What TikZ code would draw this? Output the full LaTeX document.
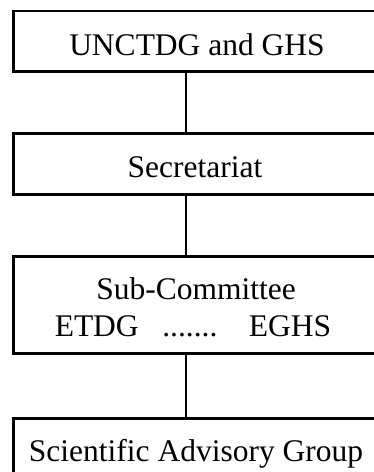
\documentclass[tikz,border=0pt]{standalone}
\usepackage{fontspec}
\setmainfont{Liberation Serif}
\begin{document}
\begin{tikzpicture}[x=1pt,y=-1pt,
  unitbox/.style={draw, line width=2.6pt, anchor=north west, minimum width=372pt, inner sep=0pt},
  unittext/.style={anchor=base, inner sep=0pt, font=\fontsize{31.5}{37}\selectfont}]
\useasboundingbox (0,0) rectangle (373,472);

\node[unitbox, minimum height=60.5pt] (unctdg) at (12,9.5) {};
\node[unitbox, minimum height=61pt] (secret) at (12,132) {};
\node[unitbox, minimum height=97pt] (subcom) at (12,255) {};
\node[unitbox, minimum height=80pt] (sag) at (12,417) {};

\node[unittext] (unctdgtxt) at (197,55.5) {UNCTDG and GHS};
\node[unittext] (secrettxt) at (195,177) {Secretariat};
\node[unittext] (subcomtxt) at (196,299) {Sub-Committee};
\node[unittext] (expertstxt) at (193,336) {ETDG\ \ \ .......\ \ \ \ EGHS};
\node[unittext] (sagtxt) at (196,461.5) {Scientific Advisory Group};

\draw[line width=2.6pt] (unctdg.south -| 186,0) -- (secret.north -| 186,0);
\draw[line width=2.6pt] (secret.south -| 186,0) -- (subcom.north -| 186,0);
\draw[line width=2.6pt] (subcom.south -| 186,0) -- (sag.north -| 186,0);
\end{tikzpicture}
\end{document}
